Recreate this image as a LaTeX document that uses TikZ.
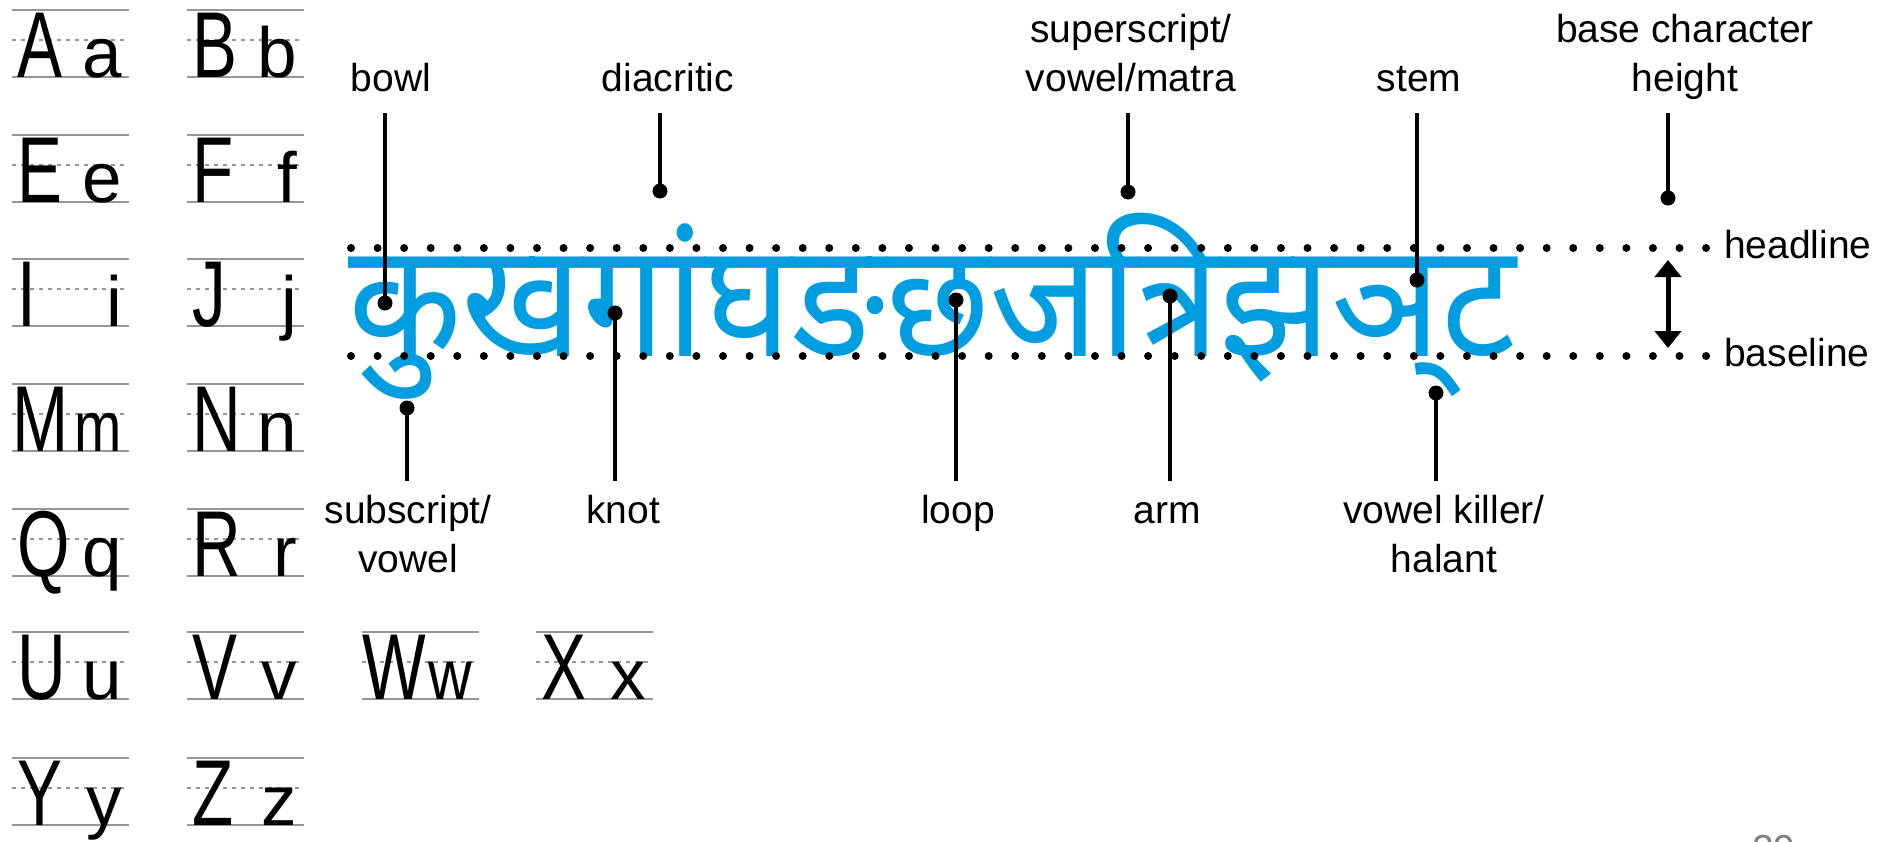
\documentclass[tikz,border=0pt]{standalone}
\usepackage{fontspec}
\usepackage{graphicx}
\setmainfont{Liberation Sans}
\newfontfamily\devafont[Script=Devanagari,FakeStretch=0.925]{Noto Sans}
\newfontfamily\capfont[FakeStretch=0.72]{Liberation Sans}
\newfontfamily\lowfont{Liberation Sans}
\usetikzlibrary{arrows.meta,calc}
\definecolor{devablue}{RGB}{0,157,224}
\definecolor{ruleg}{RGB}{150,150,150}
\begin{document}
\begin{tikzpicture}[x=1pt,y=-1pt,
  lbl/.style={font=\fontsize{39}{49}\selectfont, align=center, inner sep=0pt, anchor=north},
  side/.style={font=\fontsize{39}{49}\selectfont, inner sep=0pt, anchor=base west},
  ptr/.style={line width=4pt},
  pdot/.style={circle, fill=black, inner sep=0pt, minimum size=15pt},
  dotrow/.style={line width=8pt, line cap=round, dash pattern=on 0pt off 26.57pt},
  solidrule/.style={ruleg, line width=2pt},
  dashrule/.style={ruleg, line width=1.5pt, dash pattern=on 4pt off 5pt},
  capl/.style={font=\capfont\fontsize{93.6}{94}\selectfont, inner sep=0pt, anchor=base west},
  lowl/.style={font=\lowfont\fontsize{71}{72}\selectfont, inner sep=0pt, anchor=base east},
  dbl/.style={line width=5pt, {Triangle[width=26pt,length=17pt]}-{Triangle[width=26pt,length=17pt]}},
]
\useasboundingbox (0,0) rectangle (1887,841);

% handwriting guide cells: left x / bottom y / capital / lowercase / capital offset / lowercase x-scale
\foreach \cx/\by/\C/\l/\dx/\ls in {12/77/A/a/5/1, 187/77/B/b/5/1, 12/202/E/e/5/1, 187/202/F/f/5/1,
  12/326/I/i/5/1, 187/326/J/j/5/1, 12/451/M/m/0/0.8, 187/451/N/n/5/1, 12/576/Q/q/5/1, 187/576/R/r/5/1,
  12/699/U/u/5/1, 187/699/V/v/5/1, 362/699/W/w/0/0.85, 536/699/X/x/5/1, 12/825/Y/y/5/1, 187/825/Z/z/5/1}{
  \draw[solidrule] (\cx,\by-67) -- ++(117,0);
  \draw[dashrule] (\cx,\by-37) -- ++(112,0);
  \draw[solidrule] (\cx,\by) -- ++(117,0);
  \node[capl] (C\C) at (\cx+\dx,\by) {\C};
  \node[lowl] (L\l) at (\cx+110,\by) {\scalebox{\ls}[1]{\l}};
}

% devanagari sample
\node[font=\devafont\fontsize{160}{160}\selectfont, text=devablue, inner sep=0pt, anchor=base west]
  (deva) at (348,356) {कुखगांघङछजत्रिझञ्‌ट};

% dotted guide rows
\coordinate (hs) at (351,248);
\coordinate (he) at (1706.1,248);
\coordinate (bs) at (351,356);
\coordinate (be) at (1706.1,356);
\draw[dotrow] (hs) -- (he);
\draw[dotrow] (bs) -- (be);
\node[side] (thead) at (1724,258) {headline};
\node[side] (tbase) at (1724,366) {baseline};

% height arrow
\coordinate (artop) at (1668,260);
\coordinate (arbot) at (1668,348);
\draw[dbl] (artop) -- (arbot);

% labels
\node[lbl] (lbowl) at (391,56.7) {\strut bowl};
\node[lbl] (ldiac) at (668,56.7) {\strut diacritic};
\node[lbl] (lsup) at (1131,7.7) {\strut superscript/\\\strut vowel/matra};
\node[lbl] (lstem) at (1419,56.7) {\strut stem};
\node[lbl] (lbch) at (1685,7.7) {\strut base character\\\strut height};
\node[lbl] (lsub) at (408,488.7) {\strut subscript/\\\strut vowel};
\node[lbl] (lknot) at (623,488.7) {\strut knot};
\node[lbl] (lloop) at (958,488.7) {\strut loop};
\node[lbl] (larm) at (1167,488.7) {\strut arm};
\node[lbl] (lvk) at (1444,488.7) {\strut vowel killer/\\\strut halant};

% pointer dots
\node[pdot] (dbowl) at (385,303) {};
\node[pdot] (ddiac) at (660,191) {};
\node[pdot] (dsup) at (1128,192) {};
\node[pdot] (dstem) at (1417,280) {};
\node[pdot] (dbch) at (1668,198) {};
\node[pdot] (dsub) at (407,408) {};
\node[pdot] (dknot) at (615,313) {};
\node[pdot] (dloop) at (956,300) {};
\node[pdot] (darm) at (1170,296) {};
\node[pdot] (dvk) at (1436,393) {};

% pointer lines
\foreach \l/\d in {lbowl/dbowl, ldiac/ddiac, lsup/dsup, lstem/dstem, lbch/dbch}{
  \draw[ptr] ($(\l.south -| \d)+(0,7)$) -- (\d.center);
}
\foreach \l/\d in {lsub/dsub, lknot/dknot, lloop/dloop, larm/darm, lvk/dvk}{
  \draw[ptr] ($(\l.north -| \d)+(0,-8)$) -- (\d.center);
}

% page number (cut off at the bottom edge)
\node[text=gray, font=\fontsize{39}{39}\selectfont, anchor=north west, inner sep=0pt] (pgno) at (1752,835) {29};
\end{tikzpicture}
\end{document}
